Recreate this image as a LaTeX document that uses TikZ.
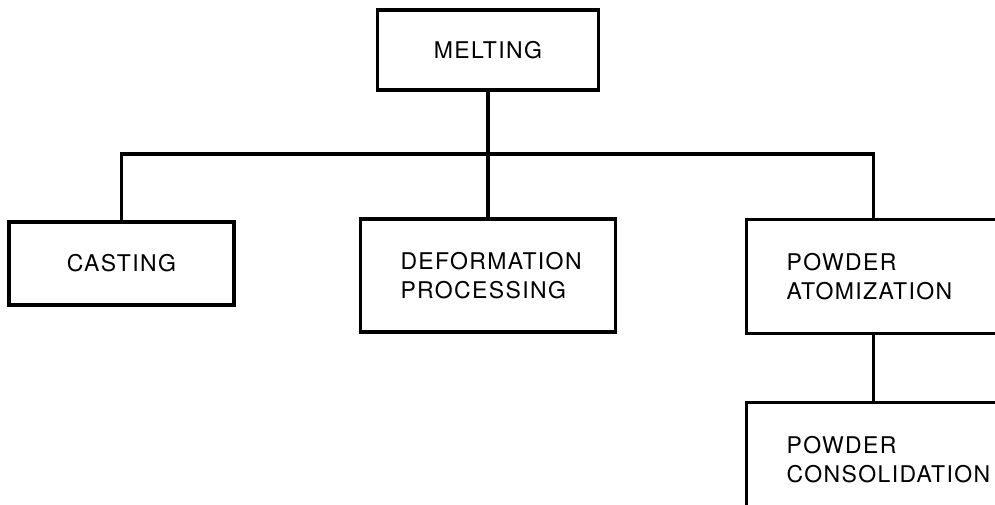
\documentclass[tikz,border=0pt]{standalone}
\usepackage{fontspec}
\newfontfamily\procfont{TeX Gyre Heros}[LetterSpace=6]
\usetikzlibrary{positioning}

\begin{document}
\begin{tikzpicture}[
  x=1pt, y=1pt,
  stage/.style={draw, line width=3.2pt, font=\procfont\fontsize{23}{29}\selectfont,
                align=center},
  wide/.style={stage, align=left, inner xsep=40pt, text width=174pt, minimum height=114pt},
  link/.style={line width=3.2pt}
]
\clip (0,0) rectangle (995,-505);
\node[stage, minimum width=221pt, minimum height=80pt] (melt) at (488,-50) {MELTING};
\node[stage, minimum width=225pt, minimum height=83pt] (cast) at (121.5,-263.5) {CASTING};
\node[wide, text width=175pt, minimum height=113pt] (deform) at (488,-275.5) {DEFORMATION\\PROCESSING};
\node[wide, anchor=north west] (atom) at (745,-218) {POWDER\\ATOMIZATION};
\node[wide, below=66pt of atom] (cons) {POWDER\\CONSOLIDATION};
\coordinate (bus) at (488,-154);
\draw[link] (melt) -- (deform);
\draw[link] (cast.north) |- (bus) -| (atom.north);
\draw[link] (atom) -- (cons);
\end{tikzpicture}
\end{document}
